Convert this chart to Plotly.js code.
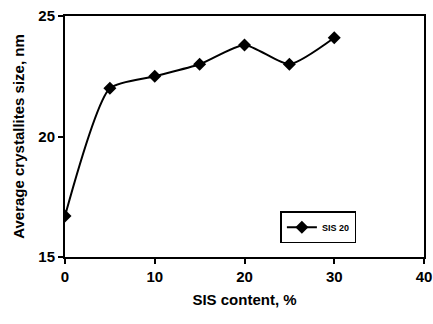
<!DOCTYPE html>
<html>
<head>
<meta charset="utf-8">
<script src="https://cdn.plot.ly/plotly-3.0.1.min.js"></script>
<style>html,body{margin:0;padding:0;background:#fff;}#chart{width:433px;height:324px;}</style>
</head>
<body>
<div id="chart"></div>
<script>
const sisContent = [0, 5, 10, 15, 20, 25, 30];
const crystalliteSize = [16.7, 22.0, 22.5, 23.0, 23.8, 23.0, 24.1];
const seriesName = "SIS 20";
const xTicks = [0, 10, 20, 30, 40];
const yTicks = [15, 20, 25];

const font = {family: 'Arial, "Liberation Sans", sans-serif', color: '#000'};

const trace = {
  x: sisContent,
  y: crystalliteSize,
  name: seriesName,
  type: 'scatter',
  mode: 'lines+markers',
  line: {color: '#000', width: 2, shape: 'spline', smoothing: 0.6},
  marker: {symbol: 'diamond', size: 10, color: '#000'}
};

const axisCommon = {
  showline: true, linecolor: '#000', linewidth: 2, mirror: true,
  ticks: 'outside', ticklen: 5, tickwidth: 2, tickcolor: '#000',
  showgrid: false, zeroline: false,
  tickfont: Object.assign({size: 15, weight: 'bold'}, font)
};

const layout = {
  width: 433, height: 324,
  margin: {l: 65, r: 9, t: 16, b: 67},
  paper_bgcolor: '#fff', plot_bgcolor: '#fff',
  showlegend: true,
  legend: {
    x: 0.6, y: 0.19, xanchor: 'left', yanchor: 'top',
    bordercolor: '#000', borderwidth: 1.5, bgcolor: '#fff',
    font: Object.assign({size: 9, weight: 'bold'}, font),
    itemwidth: 30, tracegroupgap: 0
  },
  xaxis: Object.assign({}, axisCommon, {
    range: [0, 40], tickvals: xTicks,
    title: {text: 'SIS content, %', font: Object.assign({size: 15, weight: 'bold'}, font), standoff: 10}
  }),
  yaxis: Object.assign({}, axisCommon, {
    range: [15, 25], tickvals: yTicks,
    title: {text: 'Average crystallites size, nm', font: Object.assign({size: 15, weight: 'bold'}, font), standoff: 10}
  })
};

Plotly.newPlot('chart', [trace], layout, {displayModeBar: false, staticPlot: true});
</script>
</body>
</html>
